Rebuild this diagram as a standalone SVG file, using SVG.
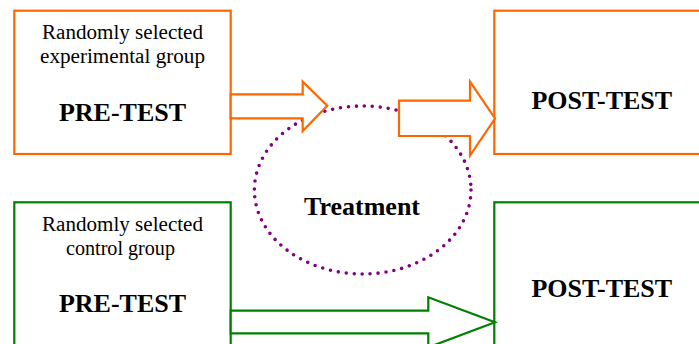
<svg xmlns="http://www.w3.org/2000/svg" width="699" height="344" viewBox="0 0 699 344">
<style>
.bg{fill:#fff}
.orange{fill:#fff;stroke:#ff6600;stroke-width:2.2}
.green{fill:#fff;stroke:#008000;stroke-width:2.2}
.arrO{fill:#fff;stroke:#ff6600;stroke-width:2.2;stroke-linejoin:miter}
.arrG{fill:#fff;stroke:#008000;stroke-width:2.2;stroke-linejoin:miter}
.reg{font-family:"Liberation Serif","Times New Roman",serif;font-size:20px;fill:#000;text-anchor:middle}
.bold{font-family:"Liberation Serif","Times New Roman",serif;font-size:26px;font-weight:bold;fill:#000;text-anchor:middle}
.dots{fill:none;stroke:#800080;stroke-width:3.6;stroke-linecap:round;stroke-dasharray:0 8}
</style>
<rect class="bg" x="0" y="0" width="699" height="344"/>
<g id="treatment">
<ellipse class="dots" cx="362.7" cy="190" rx="108.3" ry="84"/>
<text class="bold" x="362" y="215">Treatment</text>
</g>
<g id="exp-pretest">
<rect class="orange" x="14.3" y="10.7" width="216.4" height="143.3"/>
<text class="reg" x="122.5" y="39.3" textLength="161" lengthAdjust="spacingAndGlyphs">Randomly selected</text>
<text class="reg" x="122.5" y="63.3" textLength="165" lengthAdjust="spacingAndGlyphs">experimental group</text>
<text class="bold" x="122.5" y="120.7">PRE-TEST</text>
</g>
<g id="exp-posttest">
<rect class="orange" x="494.3" y="10.7" width="216" height="143.3"/>
<text class="bold" x="601.8" y="109">POST-TEST</text>
</g>
<g id="ctl-pretest">
<rect class="green" x="14.3" y="202.3" width="216.4" height="160"/>
<text class="reg" x="122.5" y="231" textLength="161" lengthAdjust="spacingAndGlyphs">Randomly selected</text>
<text class="reg" x="120.5" y="255" textLength="109" lengthAdjust="spacingAndGlyphs">control group</text>
<text class="bold" x="122.5" y="312.3">PRE-TEST</text>
</g>
<g id="ctl-posttest">
<rect class="green" x="494.3" y="202.3" width="216" height="160"/>
<text class="bold" x="601.8" y="296.7">POST-TEST</text>
</g>
<g id="connectors">
<polygon class="arrO" points="230.7,94.3 302.7,94.3 302.7,81.7 327.3,105.7 302.7,131 302.7,118.3 230.7,118.3"/>
<polygon class="arrO" points="399,100.7 470,100.7 470,81.7 495,118.5 470,155.5 470,136 399,136"/>
<polygon class="arrG" points="230.7,310.7 428.3,310.7 428.3,297.3 495,322.3 428.3,347.3 428.3,333.3 230.7,333.3"/>
</g>
</svg>
